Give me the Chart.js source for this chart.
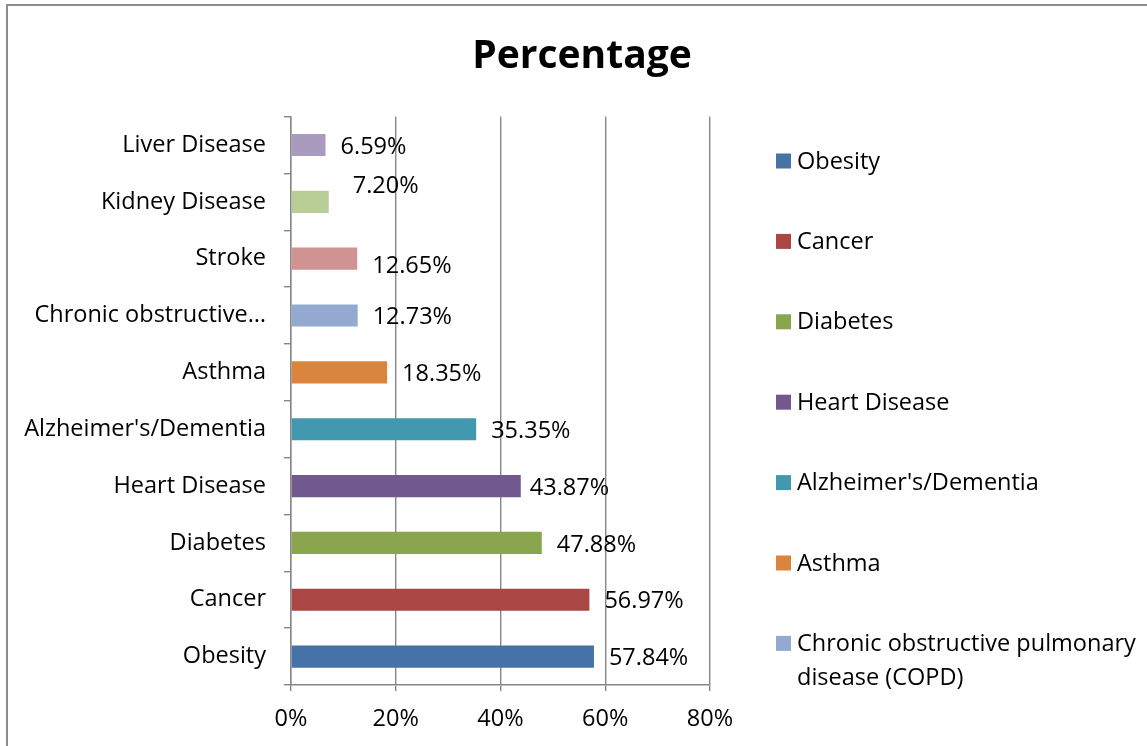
<!DOCTYPE html>
<html>
<head>
<meta charset="utf-8">
<script src="https://cdn.jsdelivr.net/npm/chart.js@4/dist/chart.umd.min.js"></script>
<style>
  html, body { margin: 0; padding: 0; background: #ffffff; overflow: hidden; }
  #wrap { position: absolute; left: 0; top: 0; width: 1147px; height: 746px; }
</style>
</head>
<body>
<div id="wrap"><canvas id="c" width="1147" height="746"></canvas></div>
<script>
// ---- data ----
const categories = [
  "Obesity",
  "Cancer",
  "Diabetes",
  "Heart Disease",
  "Alzheimer's/Dementia",
  "Asthma",
  "Chronic obstructive pulmonary disease (COPD)",
  "Stroke",
  "Kidney Disease",
  "Liver Disease"
];
const percentages = [57.84, 56.97, 47.88, 43.87, 35.35, 18.35, 12.73, 12.65, 7.20, 6.59];
const barColors = ["#4672A8", "#AA4643", "#89A54E", "#71588F", "#4198AF", "#DB843D", "#93A9CF", "#D19392", "#B9CD96", "#A99BBD"];
const xTickValues = [0, 20, 40, 60, 80];
const chartTitle = "Percentage";
const legendShown = 7;

const FONT = "'Open Sans', 'DejaVu Sans', sans-serif";
const TXT = 23.5;

const framePlugin = {
  id: 'frame',
  beforeDraw(chart) {
    const ctx = chart.ctx;
    ctx.save();
    ctx.fillStyle = '#ffffff';
    ctx.fillRect(0, 0, chart.width, chart.height);
    ctx.strokeStyle = '#8c8c8c';
    ctx.lineWidth = 2;
    ctx.beginPath();
    ctx.moveTo(7, chart.height + 2);
    ctx.lineTo(7, 5);
    ctx.lineTo(chart.width + 2, 5);
    ctx.stroke();
    ctx.restore();
  }
};

const valueLabelPlugin = {
  id: 'valueLabels',
  afterDatasetsDraw(chart, args, opts) {
    const ctx = chart.ctx;
    const meta = chart.getDatasetMeta(0);
    ctx.save();
    ctx.font = opts.size + 'px ' + FONT;
    ctx.fillStyle = '#000';
    ctx.textAlign = 'left';
    ctx.textBaseline = 'middle';
    meta.data.forEach((el, i) => {
      const n = (opts.nudge && opts.nudge[i]) || { dx: 0, dy: 0 };
      const v = chart.data.datasets[0].data[i];
      ctx.fillText(v.toFixed(2) + '%', el.x + opts.gap + n.dx, el.y + 2 + n.dy);
    });
    ctx.restore();
  }
};

const sideLegendPlugin = {
  id: 'sideLegend',
  afterDraw(chart, args, opts) {
    const ctx = chart.ctx;
    ctx.save();
    ctx.font = opts.size + 'px ' + FONT;
    ctx.textBaseline = 'middle';
    ctx.textAlign = 'left';
    const maxW = chart.width - opts.textX - 4;
    for (let i = 0; i < opts.count; i++) {
      const y = opts.top + i * opts.step;
      ctx.fillStyle = barColors[i];
      ctx.fillRect(opts.boxX, y - 7.5, 15, 15);
      ctx.fillStyle = '#000';
      const words = categories[i].split(' ');
      const lines = [];
      let cur = '';
      words.forEach(w => {
        const t = cur ? cur + ' ' + w : w;
        if (ctx.measureText(t).width > maxW && cur) { lines.push(cur); cur = w; }
        else cur = t;
      });
      if (cur) lines.push(cur);
      lines.forEach((ln, k) => ctx.fillText(ln, opts.textX, y + 1 + k * opts.lineH));
    }
    ctx.restore();
  }
};

new Chart(document.getElementById('c'), {
  type: 'bar',
  data: {
    labels: categories,
    datasets: [{
      label: chartTitle,
      data: percentages,
      backgroundColor: barColors,
      borderWidth: 0,
      categoryPercentage: 1,
      barPercentage: 0.39
    }]
  },
  options: {
    indexAxis: 'y',
    responsive: false,
    animation: false,
    layout: { padding: { left: 17, right: 0, top: 0, bottom: 0 } },
    plugins: {
      legend: { display: false },
      tooltip: { enabled: false },
      title: {
        display: true,
        text: chartTitle,
        color: '#000',
        font: { family: FONT, size: 39, weight: 'bold', lineHeight: 1.2 },
        padding: { top: 33.6, bottom: 36.2 }
      },
      valueLabels: {
        size: TXT, gap: 15,
        nudge: { 8: { dx: 9, dy: -18 }, 7: { dx: 0, dy: 6 }, 3: { dx: -6, dy: 0 } }
      },
      sideLegend: { count: legendShown, top: 161, step: 80.4, boxX: 776, textX: 797, size: TXT, lineH: 34 }
    },
    scales: {
      x: {
        min: 0, max: 80,
        afterFit(s) { s.height = 61; },
        afterBuildTicks(s) { s.ticks = xTickValues.map(v => ({ value: v })); },
        ticks: {
          color: '#000', padding: 14,
          font: { family: FONT, size: TXT },
          callback: v => v + '%'
        },
        grid: { color: '#868686', lineWidth: 1.4, tickLength: 6, drawTicks: true },
        border: { color: '#868686', width: 1.4 }
      },
      y: {
        reverse: true,
        afterFit(s) { s.width = 274; },
        ticks: {
          color: '#000', padding: 18,
          font: { family: FONT, size: TXT },
          callback: function (v, i) {
            const l = categories[i];
            return l.length > 22 ? l.slice(0, 19) + '…' : l;
          }
        },
        grid: { offset: true, drawOnChartArea: false, color: '#868686', lineWidth: 1.4, tickLength: 7 },
        border: { color: '#868686', width: 1.4 }
      },
      legendSpace: {
        type: 'linear',
        position: 'right',
        display: true,
        afterFit(s) { s.width = 437; },
        ticks: { display: false },
        grid: { display: false, drawTicks: false },
        border: { display: false }
      }
    }
  },
  plugins: [framePlugin, valueLabelPlugin, sideLegendPlugin]
});
</script>
</body>
</html>
